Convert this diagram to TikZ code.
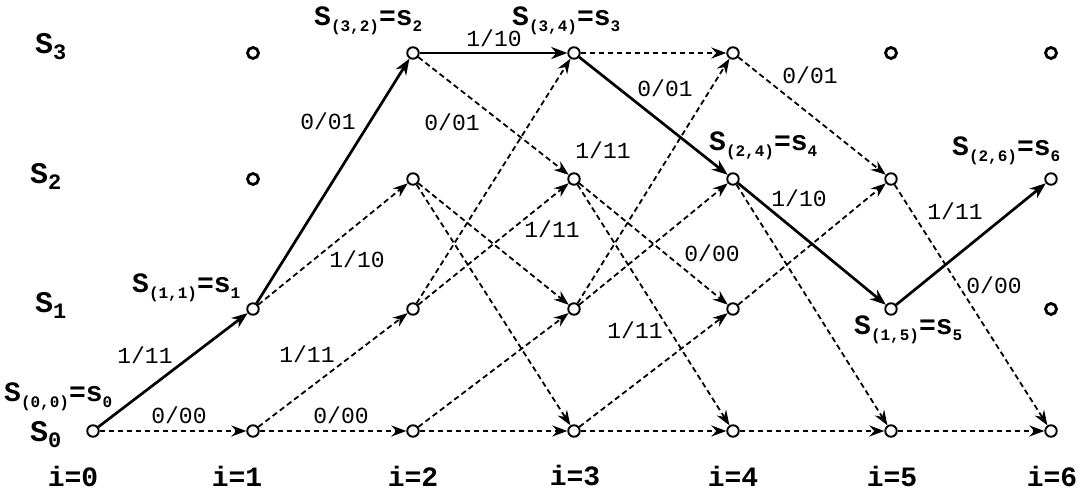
\documentclass[tikz,border=0pt]{standalone}
\usepackage{fontspec}
\newfontfamily\lmono{Liberation Mono}
\usetikzlibrary{arrows.meta}
\newcommand{\elbl}[1]{{\lmono\fontsize{23}{23}\selectfont #1}}
\newcommand{\slbl}[2]{{\lmono\bfseries\fontsize{28}{28}\selectfont S\raisebox{-6pt}{\fontsize{16}{16}\selectfont(#1)}=s\raisebox{-6pt}{\fontsize{16}{16}\selectfont #2}}}
\newcommand{\rlbl}[1]{{\lmono\bfseries\fontsize{30}{30}\selectfont S\raisebox{-6pt}{\fontsize{22}{22}\selectfont #1}}}
\newcommand{\ilbl}[1]{{\lmono\bfseries\fontsize{28}{28}\selectfont i=#1}}
\begin{document}
\begin{tikzpicture}[x=1pt,y=-1pt,
 st/.style={circle,draw,fill=white,inner sep=0pt,minimum size=11.5pt,line width=1.9pt},
 iso/.style={circle,draw,fill=white,inner sep=0pt,minimum size=11pt,line width=2.8pt},
 de/.style={line width=1.8pt,dash pattern=on 5.5pt off 3.5pt,-{Stealth[length=15pt,width=11pt,inset=5pt]}},
 se/.style={line width=2.7pt,-{Stealth[length=16pt,width=12pt,inset=5pt]}},
 tx/.style={inner sep=0pt,anchor=center},
 tl/.style={inner sep=0pt,anchor=base west}
]
\useasboundingbox[fill=white] (0,0) rectangle (1081,492);
% state nodes
\foreach \i/\x in {0/93,1/253,2/413,3/574,4/733,5/891,6/1051}{
  \foreach \s/\y in {0/431,1/309,2/179,3/53}{
    \coordinate (c-\i-\s) at (\x,\y);
  }
}
\node[st] (n-0-0) at (c-0-0) {};
\foreach \s in {0,1}{\node[st] (n-1-\s) at (c-1-\s) {};}
\foreach \s in {2,3}{\node[iso] (n-1-\s) at (c-1-\s) {};}
\foreach \i in {2,3,4}{\foreach \s in {0,1,2,3}{\node[st] (n-\i-\s) at (c-\i-\s) {};}}
\foreach \s in {0,1,2}{\node[st] (n-5-\s) at (c-5-\s) {};}
\node[iso] (n-5-3) at (c-5-3) {};
\foreach \s in {0,2}{\node[st] (n-6-\s) at (c-6-\s) {};}
\foreach \s in {1,3}{\node[iso] (n-6-\s) at (c-6-\s) {};}
% edges
\draw[de] (n-0-0) -- (n-1-0);
\draw[se] (n-0-0) -- (n-1-1);
\draw[de] (n-1-0) -- (n-2-0);
\draw[de] (n-1-0) -- (n-2-1);
\draw[de] (n-1-1) -- (n-2-2);
\draw[se] (n-1-1) -- (n-2-3);
\foreach \a/\b in {0/0,0/1,1/2,1/3,2/0,2/1,3/2}{\draw[de] (n-2-\a) -- (n-3-\b);}
\draw[se] (n-2-3) -- (n-3-3);
\foreach \a/\b in {0/0,0/1,1/2,1/3,2/0,2/1,3/3}{\draw[de] (n-3-\a) -- (n-4-\b);}
\draw[se] (n-3-3) -- (n-4-2);
\foreach \a/\b in {0/0,1/2,2/0,3/2}{\draw[de] (n-4-\a) -- (n-5-\b);}
\draw[se] (n-4-2) -- (n-5-1);
\foreach \a/\b in {0/0,2/0}{\draw[de] (n-5-\a) -- (n-6-\b);}
\draw[se] (n-5-1) -- (n-6-2);
% edge labels
\node[tx] (e1) at (145,355) {\elbl{1/11}};
\node[tx] (e2) at (179,415) {\elbl{0/00}};
\node[tx] (e3) at (328,121) {\elbl{0/01}};
\node[tx] (e4) at (357,259) {\elbl{1/10}};
\node[tx] (e5) at (307,354) {\elbl{1/11}};
\node[tx] (e6) at (341,415) {\elbl{0/00}};
\node[tx] (e7) at (494,38) {\elbl{1/10}};
\node[tx] (e8) at (452,122) {\elbl{0/01}};
\node[tx] (e9) at (603,150) {\elbl{1/11}};
\node[tx] (e10) at (552,229) {\elbl{1/11}};
\node[tx] (e11) at (665,88) {\elbl{0/01}};
\node[tx] (e12) at (712,253) {\elbl{0/00}};
\node[tx] (e13) at (635,330) {\elbl{1/11}};
\node[tx] (e14) at (810,75) {\elbl{0/01}};
\node[tx] (e15) at (799,198) {\elbl{1/10}};
\node[tx] (e16) at (955,211) {\elbl{1/11}};
\node[tx] (e17) at (994,285) {\elbl{0/00}};
% state labels
\node[tl] (s0) at (4,401) {\slbl{0,0}{0}};
\node[tl] (s1) at (132,292) {\slbl{1,1}{1}};
\node[tl] (s2) at (314,26) {\slbl{3,2}{2}};
\node[tl] (s3) at (512,26) {\slbl{3,4}{3}};
\node[tl] (s4) at (709,150) {\slbl{2,4}{4}};
\node[tl] (s6) at (952,155) {\slbl{2,6}{6}};
\node[tl] (s5) at (854,334) {\slbl{1,5}{5}};
% row labels
\node[tl] (r3) at (35,54) {\rlbl{3}};
\node[tl] (r2) at (30,183) {\rlbl{2}};
\node[tl] (r1) at (35,312) {\rlbl{1}};
\node[tl] (r0) at (30,441) {\rlbl{0}};
% time labels
\node[tx] (t0) at (73,476) {\ilbl{0}};
\node[tx] (t1) at (237,476) {\ilbl{1}};
\node[tx] (t2) at (413,476) {\ilbl{2}};
\node[tx] (t3) at (575,476) {\ilbl{3}};
\node[tx] (t4) at (733,476) {\ilbl{4}};
\node[tx] (t5) at (892,476) {\ilbl{5}};
\node[tx] (t6) at (1052,476) {\ilbl{6}};
\end{tikzpicture}
\end{document}
